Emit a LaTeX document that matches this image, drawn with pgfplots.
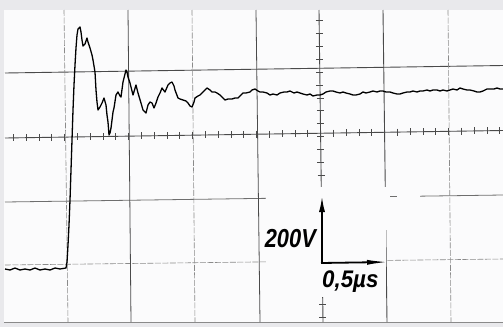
\documentclass[border=0pt]{standalone}
\usepackage{fontspec}
\setmainfont{Liberation Sans}
\usepackage{pgfplots}
\pgfplotsset{compat=1.18}
\usetikzlibrary{arrows.meta}
\definecolor{paper}{HTML}{E9E9EC}
\definecolor{screen}{HTML}{FBFBFC}
\definecolor{gridd}{HTML}{4A4A4A}
\definecolor{gridl}{HTML}{8A8A8A}
\begin{document}
\begin{tikzpicture}
\begin{axis}[
  scale only axis, width=503pt, height=327pt,
  xmin=0, xmax=503, ymin=0, ymax=327, y dir=reverse,
  hide axis, clip=true,
]
% paper and screen
\fill[paper] (axis cs:0,0) rectangle (axis cs:503,327);
\fill[screen] (axis cs:4,10) rectangle (axis cs:503,322);
\draw[gridl, line width=0.8pt] (axis cs:4,322) -- (axis cs:503,322);
% horizontal grid lines (slightly tilted scan)
\draw[gridd, line width=0.9pt] (axis cs:5,73) -- (axis cs:503,65.5);
\draw[gridd, line width=0.9pt] (axis cs:5,138) -- (axis cs:503,130.5);
\draw[gridd!80, line width=0.8pt] (axis cs:5,202) -- (axis cs:503,195);
\draw[gridl, line width=0.6pt, dash pattern=on 6pt off 1.5pt] (axis cs:5,265) -- (axis cs:503,259);
% vertical grid lines
\draw[gridl, line width=0.6pt, dash pattern=on 6pt off 1.5pt] (axis cs:64,10) -- (axis cs:68,322);
\draw[gridd, line width=0.8pt] (axis cs:128,10) -- (axis cs:131,322);
\draw[gridl, line width=0.6pt, dash pattern=on 6pt off 1.5pt] (axis cs:192,10) -- (axis cs:195,322);
\draw[gridd, line width=0.8pt] (axis cs:256,10) -- (axis cs:260,322);
\draw[gridd, line width=0.9pt] (axis cs:319,10) -- (axis cs:323,322);
\draw[gridd, line width=0.9pt] (axis cs:383,10) -- (axis cs:387,322);
\draw[gridl, line width=0.6pt, dash pattern=on 6pt off 1.5pt] (axis cs:448,10) -- (axis cs:451,322);
% minor ticks on centre horizontal line
\foreach \i in {0,...,38} {
  \pgfmathsetmacro{\xx}{13.4+12.8*\i}
  \pgfmathsetmacro{\ya}{138-0.01506*(\xx-5)-3.5}
  \pgfmathsetmacro{\yb}{138-0.01506*(\xx-5)+3.5}
  \edef\temp{\noexpand\draw[gridd, line width=0.7pt] (axis cs:\xx,\ya) -- (axis cs:\xx,\yb);}
  \temp
}
% minor ticks on centre vertical line
\foreach \i in {0,...,23} {
  \pgfmathsetmacro{\yy}{20.5+12.9*\i}
  \pgfmathsetmacro{\xa}{319+0.0128*(\yy-10)-3.5}
  \pgfmathsetmacro{\xb}{319+0.0128*(\yy-10)+3.5}
  \edef\temp{\noexpand\draw[gridd, line width=0.7pt] (axis cs:\xa,\yy) -- (axis cs:\xb,\yy);}
  \temp
}
% whited-out area behind the scale annotation
\fill[screen] (axis cs:266,187) rectangle (axis cs:386,297);
\fill[screen] (axis cs:385,187) rectangle (axis cs:390,230);
\fill[screen] (axis cs:397,190) rectangle (axis cs:420,200);
% scale annotation
\draw[black, line width=1.8pt, -{Latex[length=16pt,width=6pt]}] (axis cs:322,263) -- (axis cs:322,196);
\draw[black, line width=1.8pt, -{Latex[length=22pt,width=5pt]}] (axis cs:321,263) -- (axis cs:389,262);
\node[anchor=base east, font=\fontsize{26}{26}\selectfont\bfseries\itshape, xscale=0.84, inner sep=0pt] at (axis cs:316,247) {200V};
\node[anchor=base west, font=\fontsize{24}{24}\selectfont\bfseries\itshape, xscale=0.93, inner sep=0pt] at (axis cs:322,287) {0,5µs};
% trace
\addplot[black, line width=1.3pt, line join=round] coordinates {
(5,269)(10,270)(15,268)(20,270)(25,269)(30,270)(35,268)(40,270)(45,269)(50,270)(55,268)(60,269)(66,268)
(67,262)(68,245)(69,225)(70,200)(71,170)(72,140)(73,110)(74,85)(75,65)(76,48)(77,35)(78,29)(80,27)
(81,32)(82,40)(83,46)(85,44)(87,38)(88,42)(90,48)(92,55)(93,60)(95,72)(96,90)(97,102)(98,110)
(100,107)(102,103)(104,98)(106,105)(107,115)(108,122)(109,135)(110,133)(111,128)(113,112)(114,108)
(116,95)(118,92)(120,96)(121,97)(123,82)(126,70)(127,72)(128,77)(130,83)(131,87)(133,95)(136,85)
(138,93)(141,103)(143,110)(146,113)(148,105)(150,102)(152,103)(154,108)(156,103)(158,97)(160,93)
(162,88)(165,92)(168,85)(170,83)(172,82)(174,86)(175,90)(178,98)(180,99)(183,100)(186,101)(188,103)
(190,106)(192,107)(194,102)(195,98)(198,96)(200,95)(203,92)(207,88)(210,90)(212,92)(215,92)(217,93)
(220,95)(222,97)(225,100)(228,99)(232,99)(235,98)(238,98)(241,95)(243,93)(246,93)(250,92)(252,90)
(255,89)(258,91)(260,92)(263,92)(267,93)(270,95)(273,94)(277,95)(280,93)(284,92)(287,92)(290,91)
(294,93)(297,92)(300,93)(303,94)(307,95)(310,94)(313,96)(317,95)(320,95)(323,94)(326,92)(330,91)
(333,91)(336,92)(340,93)(343,92)(346,93)(350,94)(353,95)(356,95)(360,94)(363,92)(366,93)(370,92)
(373,91)(377,92)(380,91)(383,91)(386,92)(390,92)(393,93)(397,94)(400,94)(403,93)(407,92)(410,92)
(413,91)(417,92)(420,91)(423,91)(427,90)(430,91)(433,90)(437,90)(440,91)(443,90)(447,91)(450,90)
(453,89)(457,90)(460,88)(463,89)(467,90)(470,90)(474,91)(477,92)(480,92)(483,91)(487,89)(490,89)
(494,89)(497,88)(500,89)(503,89)
};
\end{axis}
\end{tikzpicture}
\end{document}
